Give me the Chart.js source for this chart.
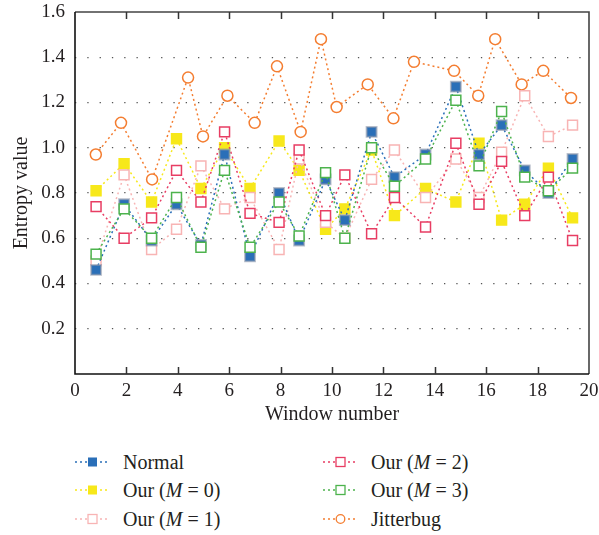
<!DOCTYPE html>
<html>
<head>
<meta charset="utf-8">
<script src="https://cdn.jsdelivr.net/npm/chart.js@4.4.1/dist/chart.umd.min.js"></script>
<style>
  html, body { margin: 0; padding: 0; background: #fff; }
  #wrap { position: relative; width: 599px; height: 535px; overflow: hidden;
          font-family: 'Liberation Serif', 'Times New Roman', serif; color: #231f20; }
  #entropyChart { position: absolute; left: 0; top: 0; }
  .legend-item { position: absolute; height: 24px; line-height: 24px; font-size: 20px; white-space: nowrap; }
  .legend-item svg { position: absolute; left: 0; top: 6px; }
  .legend-item span { position: absolute; left: 48px; top: 0; }
</style>
</head>
<body>
<div id="wrap">
  <canvas id="entropyChart" width="599" height="440"></canvas>
  <div id="legend"></div>
</div>
<script>
// window positions of the sampled windows
const windowNo = [0.82, 1.91, 2.98, 3.95, 4.90, 5.82, 6.81, 7.94, 8.72, 9.75,
                  10.50, 11.54, 12.43, 13.64, 14.82, 15.72, 16.60, 17.50, 18.42, 19.36];
const jitterWindowNo = [0.81, 1.79, 3.00, 4.40, 4.98, 5.93, 6.99, 7.86, 8.78, 9.57,
                        10.18, 11.39, 12.39, 13.19, 14.75, 15.69, 16.35, 17.38, 18.22, 19.30];

// entropy values per method
const normal = [0.46, 0.75, 0.59, 0.75, 0.57, 0.97, 0.52, 0.80, 0.59, 0.86,
                0.68, 1.07, 0.87, 0.97, 1.27, 0.97, 1.10, 0.90, 0.80, 0.95];
const ourM0  = [0.81, 0.93, 0.76, 1.04, 0.82, 1.00, 0.82, 1.03, 0.90, 0.64,
                0.73, 0.99, 0.70, 0.82, 0.76, 1.02, 0.68, 0.75, 0.91, 0.69];
const ourM1  = [0.50, 0.88, 0.55, 0.64, 0.92, 0.73, 0.78, 0.55, 0.95, 0.67,
                0.60, 0.86, 0.99, 0.78, 0.95, 0.78, 0.98, 1.23, 1.05, 1.10];
const ourM2  = [0.74, 0.60, 0.69, 0.90, 0.76, 1.07, 0.71, 0.67, 0.99, 0.70,
                0.88, 0.62, 0.78, 0.65, 1.02, 0.75, 0.94, 0.70, 0.87, 0.59];
const ourM3  = [0.53, 0.73, 0.60, 0.78, 0.56, 0.90, 0.56, 0.76, 0.61, 0.89,
                0.60, 1.00, 0.83, 0.95, 1.21, 0.92, 1.16, 0.87, 0.81, 0.91];
const jitterbug = [0.97, 1.11, 0.86, 1.31, 1.05, 1.23, 1.11, 1.36, 1.07, 1.48,
                   1.18, 1.28, 1.13, 1.38, 1.34, 1.23, 1.48, 1.28, 1.34, 1.22];

const xTicks = [0, 2, 4, 6, 8, 10, 12, 14, 16, 18, 20];
const yTicks = [0.2, 0.4, 0.6, 0.8, 1.0, 1.2, 1.4, 1.6];

const FONT = "'Liberation Serif', 'Times New Roman', serif";
const INK = '#231f20';

const series = [
  { label: 'Normal',  html: 'Normal',           xs: windowNo,       ys: normal,    color: '#2a6fb8', filled: true,  style: 'rect',   halo: 'rgba(140,150,170,0.6)', order: 2 },
  { label: 'Our (M = 0)', html: 'Our (<i>M</i> = 0)', xs: windowNo, ys: ourM0,     color: '#f7e81a', filled: true,  style: 'rect',   order: 5 },
  { label: 'Our (M = 1)', html: 'Our (<i>M</i> = 1)', xs: windowNo, ys: ourM1,     color: '#f8b4b4', filled: false, style: 'rect',   order: 4 },
  { label: 'Our (M = 2)', html: 'Our (<i>M</i> = 2)', xs: windowNo, ys: ourM2,     color: '#e83d63', filled: false, style: 'rect',   order: 3 },
  { label: 'Our (M = 3)', html: 'Our (<i>M</i> = 3)', xs: windowNo, ys: ourM3,     color: '#4db34d', filled: false, style: 'rect',   order: 1 },
  { label: 'Jitterbug',   html: 'Jitterbug',          xs: jitterWindowNo, ys: jitterbug, color: '#f47d30', filled: false, style: 'circle', order: 6 }
];

const datasets = series.map(s => ({
  label: s.label,
  data: s.xs.map((x, i) => ({ x: x, y: s.ys[i] })),
  showLine: true,
  order: s.order,
  borderColor: s.color,
  borderWidth: 1.5,
  borderDash: [2, 3],
  pointStyle: s.style,
  pointRadius: s.style === 'circle' ? 5.5 : 7,
  pointBorderWidth: s.halo ? 2 : 1.5,
  pointBorderColor: s.halo || s.color,
  pointBackgroundColor: s.filled ? s.color : '#ffffff'
}));

// box around the plot and inward ticks on the top and bottom edges
const frameTicks = {
  id: 'frameTicks',
  afterDatasetsDraw(chart) {
    const { ctx, chartArea: a } = chart;
    const xs = chart.scales.x;
    ctx.save();
    ctx.lineWidth = 1.6;
    ctx.strokeStyle = '#444';
    ctx.beginPath();
    ctx.moveTo(a.left, a.top); ctx.lineTo(a.right, a.top); ctx.lineTo(a.right, a.bottom);
    ctx.stroke();
    ctx.strokeStyle = '#111';
    ctx.beginPath();
    ctx.moveTo(a.left, a.top); ctx.lineTo(a.left, a.bottom); ctx.lineTo(a.right, a.bottom);
    ctx.stroke();
    ctx.strokeStyle = '#333';
    ctx.lineWidth = 1.5;
    xTicks.slice(1, -1).forEach(v => {
      const px = Math.round(xs.getPixelForValue(v)) + 0.5;
      ctx.beginPath();
      ctx.moveTo(px, a.bottom); ctx.lineTo(px, a.bottom - 7);
      ctx.moveTo(px, a.top); ctx.lineTo(px, a.top + 7);
      ctx.stroke();
    });
    ctx.restore();
  }
};

new Chart(document.getElementById('entropyChart').getContext('2d'), {
  type: 'scatter',
  data: { datasets },
  options: {
    responsive: false,
    animation: false,
    layout: { padding: { top: 12, right: 10, bottom: 0, left: 0 } },
    plugins: { legend: { display: false }, tooltip: { enabled: false } },
    scales: {
      x: {
        type: 'linear', min: 0, max: 20,
        afterFit: s => { s.height = 66; s.paddingLeft = 0; s.paddingRight = 0; },
        afterBuildTicks: s => { s.ticks = xTicks.map(v => ({ value: v })); },
        grid: { display: false, drawTicks: false },
        border: { display: false },
        ticks: { padding: 6, color: INK, font: { family: FONT, size: 19 }, maxRotation: 0, autoSkip: false },
        title: { display: true, text: 'Window number', color: INK, font: { family: FONT, size: 20 }, padding: { top: 0, bottom: 13 } }
      },
      y: {
        min: 0, max: 1.6,
        afterFit: s => { s.width = 75; s.paddingTop = 0; s.paddingBottom = 0; },
        afterBuildTicks: s => { s.ticks = [0].concat(yTicks).map(v => ({ value: v })); },
        grid: {
          drawTicks: false,
          lineWidth: 1.3,
          color: c => (c.tick.value > 0 && c.tick.value < 1.6) ? '#555' : 'rgba(0,0,0,0)'
        },
        border: { display: false, dash: [1.3, 11] },
        ticks: {
          padding: 10, color: INK, font: { family: FONT, size: 19 },
          callback: v => v === 0 ? '' : v.toFixed(1)
        },
        title: { display: true, text: 'Entropy value', color: INK, font: { family: FONT, size: 20 }, padding: { top: 10, bottom: 0 } }
      }
    }
  },
  plugins: [frameTicks]
});

// two-column legend under the plot
const legend = document.getElementById('legend');
const rowsY = [462, 490, 519];
series.forEach((s, i) => {
  const left = i < 3 ? 75 : 323;
  const top = rowsY[i % 3] - 12;
  const marker = s.style === 'circle'
    ? `<circle cx="17.5" cy="6" r="4.3" fill="#fff" stroke="${s.color}" stroke-width="1.3"/>`
    : `<rect x="13" y="1.5" width="9" height="9" fill="${s.filled ? s.color : '#fff'}" stroke="${s.color}" stroke-width="${s.filled ? 0 : 1.3}"/>`;
  const item = document.createElement('div');
  item.className = 'legend-item';
  item.style.left = left + 'px';
  item.style.top = top + 'px';
  item.innerHTML =
    `<svg width="36" height="12"><line x1="0" y1="6" x2="35" y2="6" stroke="${s.color}" stroke-width="1.3" stroke-dasharray="2 3"/>${marker}</svg>` +
    `<span>${s.html}</span>`;
  legend.appendChild(item);
});
</script>
</body>
</html>
